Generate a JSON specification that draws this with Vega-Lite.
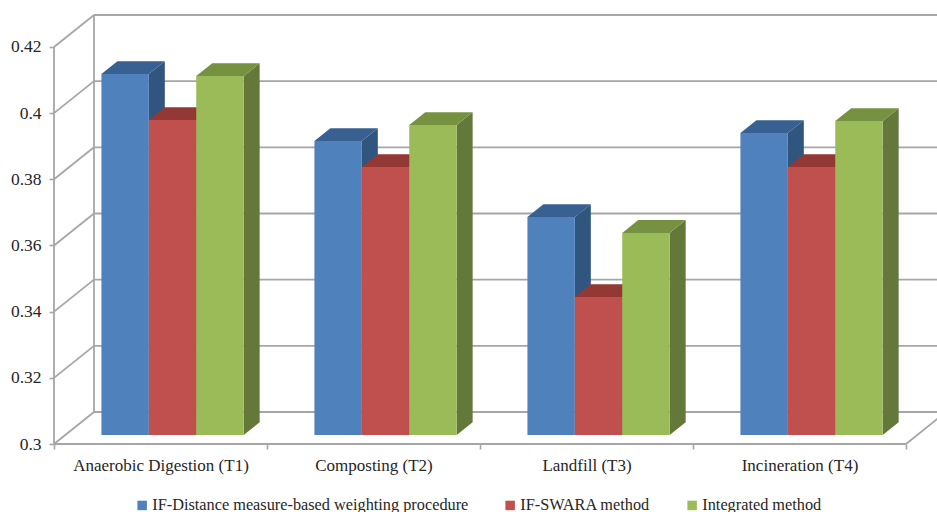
{
  "$schema": "https://vega.github.io/schema/vega-lite/v6.json",
  "width": 883,
  "height": 444,
  "autosize": "none",
  "padding": {"left": 54, "top": 0, "right": 0, "bottom": 68},
  "background": "white",
  "config": {
    "view": {"stroke": null},
    "font": "Liberation Serif",
    "axis": {"grid": false, "title": null, "domain": false, "tickColor": "#a6a6a6", "tickWidth": 1.6, "tickSize": 5, "labelColor": "#262626", "labelFont": "Liberation Serif", "labelFontSize": 17}
  },
  "datasets": {
    "bars": [
      {"cat": 0, "s": 0, "series": "IF-Distance measure-based weighting procedure", "value": 0.4091},
      {"cat": 0, "s": 1, "series": "IF-SWARA method", "value": 0.3952},
      {"cat": 0, "s": 2, "series": "Integrated method", "value": 0.4085},
      {"cat": 1, "s": 0, "series": "IF-Distance measure-based weighting procedure", "value": 0.3889},
      {"cat": 1, "s": 1, "series": "IF-SWARA method", "value": 0.381},
      {"cat": 1, "s": 2, "series": "Integrated method", "value": 0.3937},
      {"cat": 2, "s": 0, "series": "IF-Distance measure-based weighting procedure", "value": 0.3659},
      {"cat": 2, "s": 1, "series": "IF-SWARA method", "value": 0.3417},
      {"cat": 2, "s": 2, "series": "Integrated method", "value": 0.3611},
      {"cat": 3, "s": 0, "series": "IF-Distance measure-based weighting procedure", "value": 0.3913},
      {"cat": 3, "s": 1, "series": "IF-SWARA method", "value": 0.381},
      {"cat": 3, "s": 2, "series": "Integrated method", "value": 0.3949}
    ],
    "ticks": [
      {"tick": 0.3}, {"tick": 0.32}, {"tick": 0.34}, {"tick": 0.36}, {"tick": 0.38}, {"tick": 0.4}, {"tick": 0.42}
    ]
  },
  "layer": [
    {
      "data": {"name": "ticks"},
      "transform": [
        {"calculate": "0", "as": "fx"},
        {"calculate": "0.1878", "as": "bx"},
        {"calculate": "datum.tick + 0.00967", "as": "by"}
      ],
      "mark": {"type": "rule", "stroke": "#a6a6a6", "strokeWidth": 1.8},
      "encoding": {
        "x": {"field": "fx", "type": "quantitative", "scale": {"domain": [0, 4.1455], "nice": false, "zero": false},
          "axis": {"values": [0, 1, 2, 3, 4], "labelOffset": 106.5, "labelPadding": 8, "labelBound": false, "labelFlush": false, "labelOverlap": false,
            "labelExpr": "['Anaerobic Digestion (T1)', 'Composting (T2)', 'Landfill (T3)', 'Incineration (T4)', ''][datum.value]"}},
        "x2": {"field": "bx"},
        "y": {"field": "tick", "type": "quantitative", "scale": {"domain": [0.3, 0.4342], "nice": false, "zero": false},
          "axis": {"values": [0.3, 0.32, 0.34, 0.36, 0.38, 0.4, 0.42], "format": ".2~f", "labelPadding": 8, "labelFontSize": 17.5}},
        "y2": {"field": "by"}
      }
    },
    {
      "data": {"name": "ticks"},
      "transform": [
        {"calculate": "0.1878", "as": "bx"},
        {"calculate": "4.2", "as": "ex"},
        {"calculate": "datum.tick + 0.00967", "as": "by"}
      ],
      "mark": {"type": "rule", "stroke": "#a6a6a6", "strokeWidth": 1.8},
      "encoding": {
        "x": {"field": "bx", "type": "quantitative"},
        "x2": {"field": "ex"},
        "y": {"field": "by", "type": "quantitative"}
      }
    },
    {
      "data": {"values": [{"low": 0.3, "high": 0.42, "depth": 0}, {"low": 0.3, "high": 0.42, "depth": 1}]},
      "transform": [
        {"calculate": "datum.depth * 0.1878", "as": "wx"},
        {"calculate": "datum.low + datum.depth * 0.00967", "as": "wlow"},
        {"calculate": "datum.high + datum.depth * 0.00967", "as": "whigh"}
      ],
      "mark": {"type": "rule", "stroke": "#a6a6a6", "strokeWidth": 1.8},
      "encoding": {
        "x": {"field": "wx", "type": "quantitative"},
        "y": {"field": "wlow", "type": "quantitative"},
        "y2": {"field": "whigh"}
      }
    },
    {
      "data": {"values": [{"base": 0.3, "start": 0, "end": 4}]},
      "mark": {"type": "rule", "stroke": "#a6a6a6", "strokeWidth": 2.2},
      "encoding": {
        "x": {"field": "start", "type": "quantitative"},
        "x2": {"field": "end"},
        "y": {"field": "base", "type": "quantitative"}
      }
    },
    {
      "data": {"values": [{"base": 0.3, "end": 4}]},
      "transform": [
        {"calculate": "datum.end + 0.1878", "as": "ex"},
        {"calculate": "datum.base + 0.00967", "as": "ey"}
      ],
      "mark": {"type": "rule", "stroke": "#a6a6a6", "strokeWidth": 1.8},
      "encoding": {
        "x": {"field": "end", "type": "quantitative"},
        "x2": {"field": "ex"},
        "y": {"field": "base", "type": "quantitative"},
        "y2": {"field": "ey"}
      }
    },
    {
      "data": {"name": "bars"},
      "transform": [
        {"calculate": "datum.cat + 0.2226 + datum.s * 0.2226", "as": "x0"},
        {"calculate": "datum.value + 0.0027", "as": "vf"},
        {"calculate": "0", "as": "near"},
        {"calculate": "1", "as": "far"},
        {"fold": ["near", "far"], "as": ["edge", "t"]},
        {"calculate": "datum.x0 + 0.2226 + datum.t * 0.0751", "as": "sx"},
        {"calculate": "0.3027 + datum.t * 0.00387", "as": "sy"},
        {"calculate": "datum.vf + datum.t * 0.00387", "as": "sy2"},
        {"calculate": "datum.s + '-' + datum.cat", "as": "face"}
      ],
      "mark": {"type": "area", "orient": "vertical"},
      "encoding": {
        "x": {"field": "sx", "type": "quantitative"},
        "y": {"field": "sy", "type": "quantitative"},
        "y2": {"field": "sy2"},
        "detail": {"field": "face", "type": "nominal"},
        "color": {"field": "series", "legend": null, "sort": null,
          "scale": {"domain": ["IF-Distance measure-based weighting procedure", "IF-SWARA method", "Integrated method"], "range": ["#30557f", "#8c3836", "#647839"]}}
      }
    },
    {
      "data": {"name": "bars"},
      "transform": [
        {"calculate": "datum.cat + 0.2226 + datum.s * 0.2226", "as": "x0"},
        {"calculate": "datum.value + 0.0027", "as": "vf"},
        {"calculate": "0", "as": "near"},
        {"calculate": "1", "as": "far"},
        {"fold": ["near", "far"], "as": ["edge", "t"]},
        {"calculate": "datum.x0 + datum.t * 0.0751", "as": "tx"},
        {"calculate": "datum.x0 + 0.2226 + datum.t * 0.0751", "as": "tx2"},
        {"calculate": "datum.vf + datum.t * 0.00387", "as": "ty"},
        {"calculate": "datum.s + '-' + datum.cat", "as": "face"}
      ],
      "mark": {"type": "area", "orient": "horizontal"},
      "encoding": {
        "y": {"field": "ty", "type": "quantitative"},
        "x": {"field": "tx", "type": "quantitative"},
        "x2": {"field": "tx2"},
        "detail": {"field": "face", "type": "nominal"},
        "color": {"field": "series", "legend": null, "sort": null,
          "scale": {"domain": ["IF-Distance measure-based weighting procedure", "IF-SWARA method", "Integrated method"], "range": ["#386090", "#943836", "#769240"]}}
      }
    },
    {
      "data": {"name": "bars"},
      "transform": [
        {"calculate": "datum.cat + 0.2226 + datum.s * 0.2226", "as": "x0"},
        {"calculate": "datum.x0 + 0.2226", "as": "x1"},
        {"calculate": "datum.value + 0.0027", "as": "vf"},
        {"calculate": "0.3027", "as": "base"}
      ],
      "mark": {"type": "rect"},
      "encoding": {
        "x": {"field": "x0", "type": "quantitative"},
        "x2": {"field": "x1"},
        "y": {"field": "base", "type": "quantitative"},
        "y2": {"field": "vf"},
        "color": {"field": "series", "sort": null,
          "scale": {"domain": ["IF-Distance measure-based weighting procedure", "IF-SWARA method", "Integrated method"], "range": ["#4f81bd", "#c0504d", "#9bbb59"]},
          "legend": {"title": null, "orient": "none", "legendX": 80, "legendY": 497, "direction": "horizontal", "columns": 3, "columnPadding": 33, "padding": 0,
            "symbolType": "square", "symbolSize": 90, "symbolStrokeWidth": 0, "symbolOpacity": 1, "labelFont": "Liberation Serif", "labelFontSize": 16.3, "labelColor": "#262626", "labelOffset": 2, "labelLimit": 500}}
      }
    }
  ],
  "resolve": {"scale": {"color": "independent"}}
}
